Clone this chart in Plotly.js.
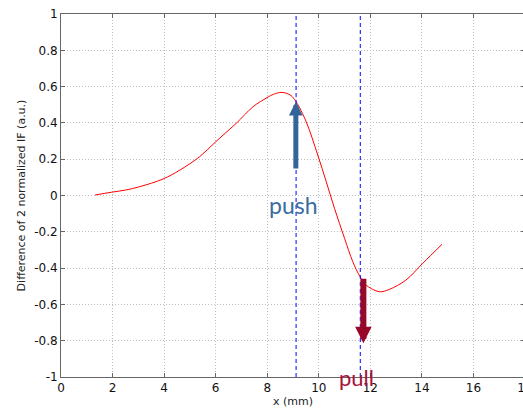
<!DOCTYPE html>
<html>
<head>
<meta charset="utf-8">
<script src="https://cdn.plot.ly/plotly-3.0.1.min.js"></script>
<style>
html,body{margin:0;padding:0;overflow:hidden;background:#fff;width:523px;height:408px;}
#chart{width:540px;height:408px;}
</style>
</head>
<body>
<div id="chart"></div>
<script>
// Curve: difference of 2 normalized IF vs x (mm)
var xValues = [1.32, 1.96, 2.5, 3.06, 3.96, 4.61, 5.38, 6.0, 6.80, 7.45, 7.99, 8.25, 8.54, 8.75, 8.93, 9.12, 9.51, 9.96, 10.29, 10.61, 11.0, 11.32, 11.60, 11.83, 12.35, 12.74, 13.38, 14.03, 14.78];
var yValues = [0.003, 0.018, 0.03, 0.049, 0.091, 0.14, 0.214, 0.296, 0.398, 0.489, 0.539, 0.558, 0.568, 0.563, 0.55, 0.517, 0.407, 0.223, 0.076, -0.071, -0.236, -0.365, -0.447, -0.493, -0.53, -0.517, -0.466, -0.374, -0.269];

// Vertical dashed marker lines (x positions)
var markerX = [9.12, 11.61];

// Arrows: [x, tailY, tipY]
var pushArrow = [9.11, 0.14, 0.517];
var pullArrow = [11.73, -0.45, -0.814];

// Labels
var pushLabel = {text: 'push', x: 9.0, y: -0.055};
var pullLabel = {text: 'pull', x: 11.48, y: -1.0};

// Ticks
var xTickVals = [0, 2, 4, 6, 8, 10, 12, 14, 16, 18];
var xTickText = ['0', '2', '4', '6', '8', '10', '12', '14', '16', '18'];
var yTickVals = [-1, -0.8, -0.6, -0.4, -0.2, 0, 0.2, 0.4, 0.6, 0.8, 1];
var yTickText = ['-1', '-0.8', '-0.6', '-0.4', '-0.2', '0', '0.2', '0.4', '0.6', '0.8', '1'];

var traces = [{
  x: xValues, y: yValues, type: 'scatter', mode: 'lines',
  line: {color: '#ff0000', width: 1, shape: 'spline', smoothing: 1},
  hoverinfo: 'skip', showlegend: false
}];

var shapes = markerX.map(function (mx) {
  return {type: 'line', xref: 'x', yref: 'paper', x0: mx, x1: mx, y0: 0, y1: 1,
          line: {color: '#0000ff', width: 1, dash: '4px,3px'}};
});

var annotations = [
  {x: pushArrow[0], y: pushArrow[2], ax: pushArrow[0], ay: pushArrow[1], xref: 'x', yref: 'y', axref: 'x', ayref: 'y',
   text: '', showarrow: true, arrowhead: 2, arrowsize: 0.55, arrowwidth: 5, arrowcolor: '#34659a', standoff: 0, startstandoff: 0},
  {x: pullArrow[0], y: pullArrow[2], ax: pullArrow[0], ay: pullArrow[1], xref: 'x', yref: 'y', axref: 'x', ayref: 'y',
   text: '', showarrow: true, arrowhead: 2, arrowsize: 0.55, arrowwidth: 6, arrowcolor: '#980828', standoff: 0, startstandoff: 0},
  {x: pushLabel.x, y: pushLabel.y, xref: 'x', yref: 'y', text: pushLabel.text, showarrow: false,
   font: {family: 'Lato, sans-serif', size: 23, color: '#3a6ca2'}},
  {x: pullLabel.x, y: pullLabel.y, xref: 'x', yref: 'y', text: pullLabel.text, showarrow: false,
   font: {family: 'Lato, sans-serif', size: 22, color: '#a8123a'}}
];

var axisCommon = {
  showline: true, linecolor: '#666666', linewidth: 1, mirror: 'ticks',
  ticks: 'inside', ticklen: 4, tickcolor: '#666666', tickwidth: 1,
  showgrid: true, gridcolor: '#bdbdbd', gridwidth: 1, griddash: '1px,2px',
  zeroline: false, automargin: false,
  tickfont: {family: 'DejaVu Sans, sans-serif', size: 12, color: '#111111'}
};

var layout = {
  width: 540, height: 408,
  margin: {l: 61, r: 15, t: 14, b: 31, pad: 0},
  paper_bgcolor: '#ffffff', plot_bgcolor: '#ffffff',
  xaxis: Object.assign({}, axisCommon, {
    range: [0, 18], tickmode: 'array', tickvals: xTickVals, ticktext: xTickText,
    title: {text: 'x (mm)', font: {family: 'DejaVu Sans, sans-serif', size: 11, color: '#222222'}, standoff: 2}
  }),
  yaxis: Object.assign({}, axisCommon, {
    range: [-1, 1], tickmode: 'array', tickvals: yTickVals, ticktext: yTickText,
    title: {text: 'Difference of 2 normalized IF (a.u.)', font: {family: 'DejaVu Sans, sans-serif', size: 11, color: '#222222'}, standoff: 6}
  }),
  shapes: shapes,
  annotations: annotations,
  showlegend: false
};

Plotly.newPlot('chart', traces, layout, {displayModeBar: false, staticPlot: true});
</script>
</body>
</html>
